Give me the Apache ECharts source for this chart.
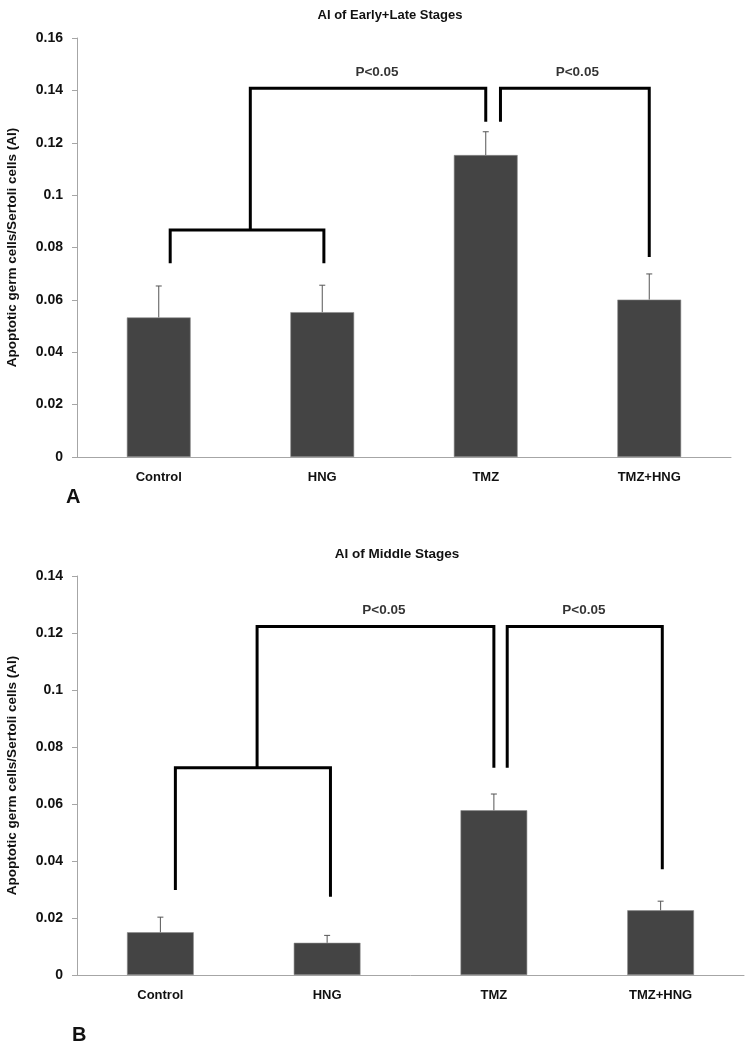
<!DOCTYPE html>
<html>
<head>
<meta charset="utf-8">
<script src="https://cdn.jsdelivr.net/npm/echarts@6/dist/echarts.min.js"></script>
<style>
html,body{margin:0;padding:0;background:#fff;}
#chart{width:750px;height:1046px;}
</style>
</head>
<body>
<div id="chart"></div>
<script>
// ---- data ----
const categories = ['Control', 'HNG', 'TMZ', 'TMZ+HNG'];

const titleA = 'AI of Early+Late Stages';
const meanA = [0.0533, 0.0553, 0.1153, 0.0601];
const errA = [0.0120, 0.0103, 0.0089, 0.0098];
const yMaxA = 0.16;

const titleB = 'AI of Middle Stages';
const meanB = [0.0150, 0.0113, 0.0578, 0.0227];
const errB = [0.0053, 0.0026, 0.0057, 0.0032];
const yMaxB = 0.14;

const yStep = 0.02;
const yAxisName = 'Apoptotic germ cells/Sertoli cells (AI)';
const sigText = 'P<0.05';

// significance brackets: [categoryPosition, value]
const bracketsA = [
  [[0.07, 0.0740], [0.07, 0.0867], [1.01, 0.0867], [1.01, 0.0740]],
  [[0.56, 0.0867], [0.56, 0.1408], [2.00, 0.1408], [2.00, 0.1280]],
  [[2.09, 0.1280], [2.09, 0.1408], [3.00, 0.1408], [3.00, 0.0764]]
];
const sigLabelsA = [[1.335, 0.147], [2.56, 0.147]];

const bracketsB = [
  [[0.09, 0.0298], [0.09, 0.0727], [1.02, 0.0727], [1.02, 0.0275]],
  [[0.58, 0.0727], [0.58, 0.1223], [2.00, 0.1223], [2.00, 0.0727]],
  [[2.08, 0.0727], [2.08, 0.1223], [3.01, 0.1223], [3.01, 0.0371]]
];
const sigLabelsB = [[1.34, 0.128], [2.54, 0.128]];

// ---- chart ----
const FONT = 'Liberation Sans';
const chart = echarts.init(document.getElementById('chart'), null, {renderer: 'canvas'});

function catAxis(grid) {
  return {
    type: 'category', gridIndex: grid, data: categories,
    axisLine: {onZero: false, lineStyle: {color: '#a6a6a6', width: 1}},
    axisTick: {show: false},
    axisLabel: {color: '#111', fontFamily: FONT, fontWeight: 'bold', fontSize: 13, margin: 14}
  };
}
function posAxis(grid) {
  return {type: 'value', gridIndex: grid, min: -0.5, max: 3.5, show: false};
}
function valAxis(grid, max) {
  return {
    type: 'value', gridIndex: grid, min: 0, max: max, interval: yStep,
    name: yAxisName, nameLocation: 'middle', nameGap: 58,
    nameTextStyle: {color: '#111', fontFamily: FONT, fontWeight: 'bold', fontSize: 13.5},
    axisLine: {show: true, onZero: false, lineStyle: {color: '#a6a6a6', width: 1}},
    axisTick: {show: true, length: 5, lineStyle: {color: '#a6a6a6'}},
    splitLine: {show: false},
    axisLabel: {color: '#111', fontFamily: FONT, fontWeight: 'bold', fontSize: 14, margin: 14,
      formatter: v => String(parseFloat(v.toFixed(2)))}
  };
}
function barSeries(xi, yi, data, width) {
  return {
    type: 'bar', xAxisIndex: xi, yAxisIndex: yi, data: data, barWidth: width,
    itemStyle: {color: '#444444', borderColor: '#8a8a8a', borderWidth: 0.6}, z: 2
  };
}
function errSeries(xi, yi, mean, err) {
  return {
    type: 'custom', xAxisIndex: xi, yAxisIndex: yi, z: 3,
    data: mean.map((m, i) => [i, m, m + err[i]]),
    renderItem: function (params, api) {
      const lo = api.coord([api.value(0), api.value(1)]);
      const hi = api.coord([api.value(0), api.value(2)]);
      const st = {stroke: '#555555', lineWidth: 1};
      return {type: 'group', children: [
        {type: 'line', shape: {x1: lo[0], y1: lo[1], x2: hi[0], y2: hi[1]}, style: st},
        {type: 'line', shape: {x1: hi[0] - 3, y1: hi[1], x2: hi[0] + 3, y2: hi[1]}, style: st}
      ]};
    }
  };
}
function bracketSeries(xi, yi, brackets) {
  return brackets.map(b => ({
    type: 'line', xAxisIndex: xi, yAxisIndex: yi, data: b, symbol: 'none', z: 4,
    lineStyle: {color: '#000', width: 3, join: 'miter', cap: 'butt'}
  }));
}
function sigSeries(xi, yi, pts) {
  return {
    type: 'scatter', xAxisIndex: xi, yAxisIndex: yi, data: pts, symbolSize: 0, z: 5,
    label: {show: true, position: 'inside', formatter: () => sigText,
      color: '#000', fontFamily: FONT, fontWeight: 'bold', fontSize: 13.5}
  };
}

const option = {
  animation: false,
  backgroundColor: '#fff',
  title: [
    {text: titleA, left: 385, top: 4, textAlign: 'center',
      textStyle: {fontFamily: FONT, fontWeight: 'bold', fontSize: 13, color: '#111'}},
    {text: titleB, left: 392, top: 542, textAlign: 'center',
      textStyle: {fontFamily: FONT, fontWeight: 'bold', fontSize: 13.5, color: '#111'}}
  ],
  grid: [
    {left: 77, width: 654, top: 38, height: 419, outerBoundsMode: 'none', containLabel: false},
    {left: 77, width: 667, top: 576, height: 399, outerBoundsMode: 'none', containLabel: false}
  ],
  xAxis: [catAxis(0), posAxis(0), catAxis(1), posAxis(1)],
  yAxis: [valAxis(0, yMaxA), valAxis(1, yMaxB)],
  series: [
    barSeries(0, 0, meanA, '39%'),
    errSeries(0, 0, meanA, errA),
    ...bracketSeries(1, 0, bracketsA),
    sigSeries(1, 0, sigLabelsA),
    barSeries(2, 1, meanB, '40%'),
    errSeries(2, 1, meanB, errB),
    ...bracketSeries(3, 1, bracketsB),
    sigSeries(3, 1, sigLabelsB)
  ],
  graphic: [
    {type: 'text', left: 66, top: 487, style: {text: 'A', font: 'bold 20px "Liberation Sans"', fill: '#111'}},
    {type: 'text', left: 72, top: 1025, style: {text: 'B', font: 'bold 20px "Liberation Sans"', fill: '#111'}}
  ]
};
chart.setOption(option);
</script>
</body>
</html>
